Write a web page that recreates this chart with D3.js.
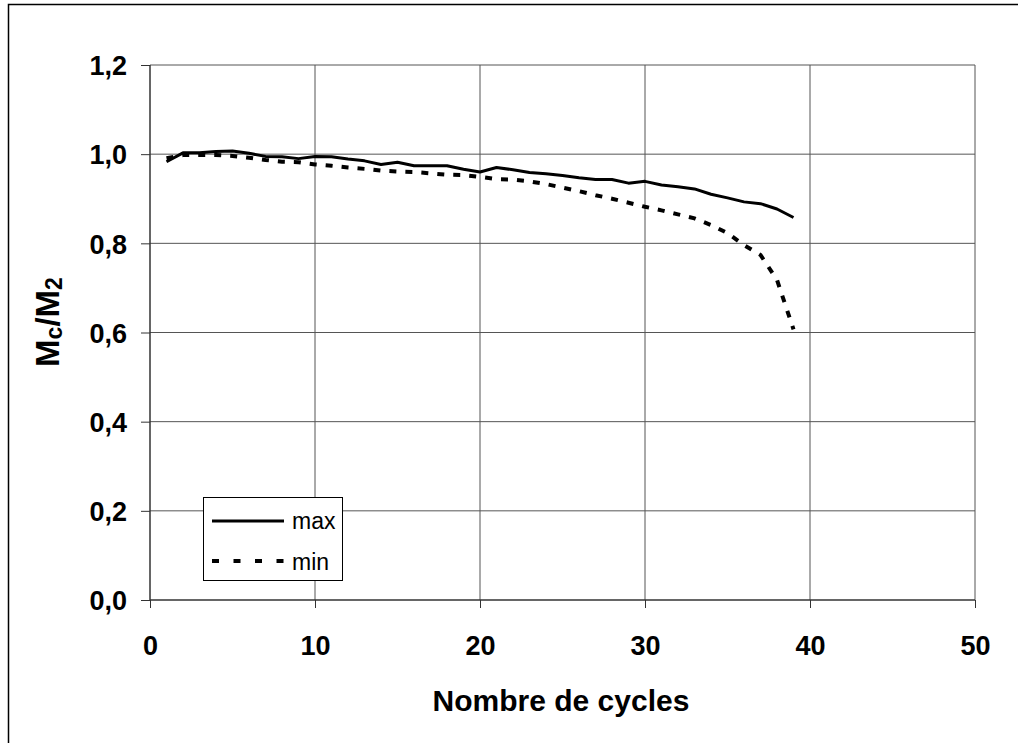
<!DOCTYPE html>
<html>
<head>
<meta charset="utf-8">
<script src="https://cdn.jsdelivr.net/npm/d3@7/dist/d3.min.js"></script>
<style>
  html, body { margin: 0; padding: 0; background: #fff; }
  svg { display: block; }
  text { font-family: "Liberation Sans", Arial, sans-serif; }
</style>
</head>
<body>
<svg id="chart" width="1018" height="743"></svg>
<script>
const cycles = [1,2,3,4,5,6,7,8,9,10,11,12,13,14,15,16,17,18,19,20,21,22,23,24,25,26,27,28,29,30,31,32,33,34,35,36,37,38,39];
const maxVals = [0.983,1.003,1.003,1.006,1.007,1.002,0.995,0.994,0.990,0.995,0.994,0.989,0.985,0.977,0.982,0.974,0.974,0.974,0.966,0.960,0.970,0.965,0.959,0.956,0.952,0.947,0.943,0.943,0.935,0.939,0.931,0.927,0.922,0.910,0.902,0.893,0.889,0.877,0.858];
const minVals = [0.991,0.998,0.998,0.998,0.996,0.992,0.987,0.983,0.982,0.977,0.974,0.970,0.967,0.963,0.961,0.960,0.957,0.954,0.953,0.949,0.944,0.943,0.939,0.933,0.925,0.917,0.908,0.900,0.891,0.882,0.874,0.865,0.856,0.841,0.823,0.796,0.774,0.718,0.607];
const xTicks = [0,10,20,30,40,50];
const yTicks = [0,0.2,0.4,0.6,0.8,1.0,1.2];
const seriesNames = ["max","min"];

const svg = d3.select("#chart");
const L = 150, R = 975, T = 65, B = 600;
const x = d3.scaleLinear().domain([0,50]).range([L,R]);
const y = d3.scaleLinear().domain([0,1.2]).range([B,T]);
const fmt = v => d3.format(".1f")(v).replace(".", ",");

// outer border (only left/top visible)
svg.append("rect").attr("x",8.5).attr("y",4.5).attr("width",1100).attr("height",800)
  .attr("fill","none").attr("stroke","#000").attr("stroke-width",1.5);

// grid
const g = svg.append("g");
g.selectAll(".vg").data(xTicks.filter(d=>d>0)).enter().append("line")
  .attr("x1",d=>x(d)).attr("x2",d=>x(d)).attr("y1",T).attr("y2",B)
  .attr("stroke","#555").attr("stroke-width",1);
g.selectAll(".hg").data(yTicks.filter(d=>d>0)).enter().append("line")
  .attr("x1",L).attr("x2",R).attr("y1",d=>y(d)).attr("y2",d=>y(d))
  .attr("stroke","#555").attr("stroke-width",1);

// axes
const xAxis = d3.axisBottom(x).tickValues(xTicks).tickSize(8).tickFormat(d=>d);
const yAxis = d3.axisLeft(y).tickValues(yTicks).tickSize(9).tickFormat(fmt);
const gx = svg.append("g").attr("transform",`translate(0,${B})`).call(xAxis);
const gy = svg.append("g").attr("transform",`translate(${L},0)`).call(yAxis);
[gx,gy].forEach(a=>{
  a.select(".domain").remove();
  a.selectAll(".tick line").attr("stroke","#333").attr("stroke-width",1);
  a.selectAll("text").attr("font-family","Liberation Sans, Arial, sans-serif")
    .attr("font-weight","bold").attr("font-size",27).attr("fill","#000");
});
gx.selectAll("text").attr("dy",null).attr("y",55);
gy.selectAll("text").attr("x",-23).attr("dy","0.36em");
svg.append("line").attr("x1",L).attr("x2",R).attr("y1",B).attr("y2",B).attr("stroke","#333").attr("stroke-width",1.5);
svg.append("line").attr("x1",L).attr("x2",L).attr("y1",T).attr("y2",B).attr("stroke","#333").attr("stroke-width",1.5);

// lines
const lineGen = d3.line().x((d,i)=>x(cycles[i])).y(d=>y(d));
svg.append("path").datum(maxVals).attr("d",lineGen)
  .attr("fill","none").attr("stroke","#000").attr("stroke-width",3).attr("stroke-linejoin","round");
svg.append("path").datum(minVals).attr("d",lineGen)
  .attr("fill","none").attr("stroke","#000").attr("stroke-width",4).attr("stroke-dasharray","7,9");

// axis titles
svg.append("text").attr("x",561).attr("y",711).attr("text-anchor","middle")
  .attr("font-weight","bold").attr("font-size",30).text("Nombre de cycles");
const yt = svg.append("text").attr("transform","translate(59,322) rotate(-90)")
  .attr("text-anchor","middle").attr("font-weight","bold").attr("font-size",33);
yt.append("tspan").text("M");
yt.append("tspan").attr("font-size",23).attr("dy",3).text("c");
yt.append("tspan").attr("dy",-3).text("/M");
yt.append("tspan").attr("font-size",23).attr("dy",3).text("2");

// legend
const lg = svg.append("g");
lg.append("rect").attr("x",203.5).attr("y",497.5).attr("width",139).attr("height",83)
  .attr("fill","#fff").attr("stroke","#000").attr("stroke-width",1);
lg.append("line").attr("x1",212).attr("x2",284).attr("y1",521).attr("y2",521)
  .attr("stroke","#000").attr("stroke-width",3);
lg.append("line").attr("x1",212).attr("x2",284).attr("y1",561).attr("y2",561)
  .attr("stroke","#000").attr("stroke-width",4).attr("stroke-dasharray","7,14.5");
lg.selectAll(".lt").data(seriesNames).enter().append("text")
  .attr("x",292).attr("y",(d,i)=>529+i*41).attr("font-size",23).text(d=>d);
</script>
</body>
</html>
